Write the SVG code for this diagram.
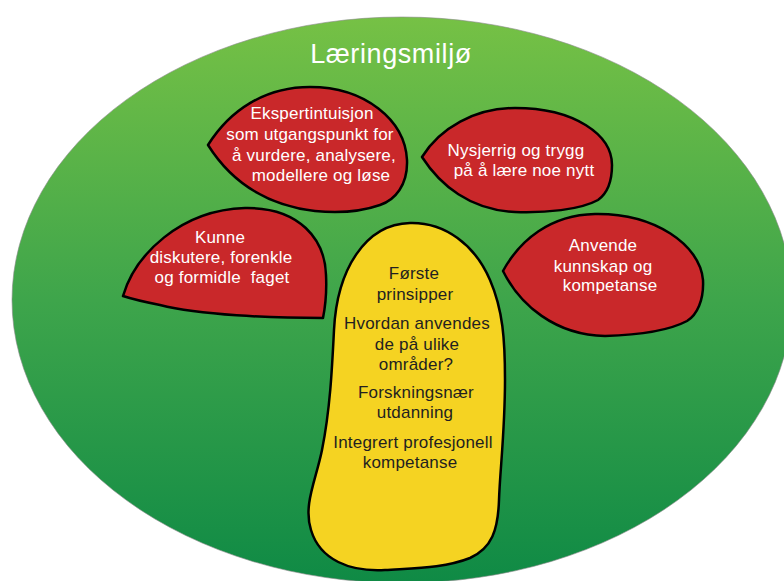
<svg xmlns="http://www.w3.org/2000/svg" width="784" height="581" viewBox="0 0 784 581">
<defs>
<linearGradient id="bg" x1="0" y1="0" x2="0" y2="1">
<stop offset="0" stop-color="#76c145"/>
<stop offset="0.5" stop-color="#3ea54b"/>
<stop offset="1" stop-color="#0f8a45"/>
</linearGradient>
<style>
.leaf{fill:#c9282a;stroke:#000;stroke-width:2.5;stroke-linejoin:round}
.core{fill:#f5d322;stroke:#000;stroke-width:2.5;stroke-linejoin:round}
.wt{fill:#fff;font-family:"Liberation Sans",Arial,sans-serif;font-size:17px;letter-spacing:0.2px;text-anchor:middle}
.dt{fill:#231f20;font-family:"Liberation Sans",Arial,sans-serif;font-size:17px;letter-spacing:0.2px;text-anchor:middle}
.title{fill:#fff;font-family:"Liberation Sans",Arial,sans-serif;font-size:27px;letter-spacing:0.6px;text-anchor:middle}
</style>
</defs>
<rect width="784" height="581" fill="#fff"/>
<g id="environment">
<ellipse cx="402" cy="300" rx="390" ry="283" fill="url(#bg)" stroke="#8a8a8a" stroke-width="1" stroke-opacity="0.6"/>
<text class="title" x="391" y="63">Læringsmiljø</text>
</g>
<g id="connectors"></g>
<g id="node-ekspert">
<path class="leaf" d="M208,145 C230,110 265,87 310,87 C365,87 405,120 407,160 C408,185 395,200 380,205 C360,212 335,213 315,211 C265,205 230,180 208,145 Z"/>
<text class="wt" x="312" y="119">Ekspertintuisjon</text>
<text class="wt" x="310" y="140">som utgangspunkt for</text>
<text class="wt" x="314" y="161">å vurdere, analysere,</text>
<text class="wt" x="321" y="181">modellere og løse</text>
</g>
<g id="node-nysjerrig">
<path class="leaf" d="M422,157 C440,128 475,108 515,108 C575,108 612,135 612,165 C612,185 605,195 598,200 C580,210 545,213 515,212 C470,210 440,185 422,157 Z"/>
<text class="wt" x="516" y="156">Nysjerrig og trygg</text>
<text class="wt" x="524" y="176">på å lære noe nytt</text>
</g>
<g id="node-kunne">
<path class="leaf" d="M123,296 C135,255 180,210 245,208 C300,207 325,240 326,275 C327,295 325,308 323,318 C270,318 200,315 160,305 C145,302 132,299 123,296 Z"/>
<text class="wt" x="220" y="243">Kunne</text>
<text class="wt" x="221" y="263">diskutere, forenkle</text>
<text class="wt" x="222" y="283" xml:space="preserve">og formidle  faget</text>
</g>
<g id="node-anvende">
<path class="leaf" d="M503,271 C520,240 550,215 595,214 C655,213 700,245 703,280 C704,300 697,315 687,321 C670,330 640,335 605,336 C555,335 520,305 503,271 Z"/>
<text class="wt" x="603" y="251">Anvende</text>
<text class="wt" x="603" y="272">kunnskap og</text>
<text class="wt" x="610" y="291">kompetanse</text>
</g>
<g id="node-kjerne">
<path class="core" d="M410,223 C445,222 475,245 490,280 C503,310 505,340 505,380 C505,430 500,470 499,500 C498,530 492,548 470,558 C445,568 415,568 385,570 C350,572 320,560 311,530 C303,505 316,480 322,450 C330,410 332,370 334,330 C337,270 365,224 410,223 Z"/>
<text class="dt" x="414" y="279">Første</text>
<text class="dt" x="415" y="300">prinsipper</text>
<text class="dt" x="417" y="329">Hvordan anvendes</text>
<text class="dt" x="417" y="350">de på ulike</text>
<text class="dt" x="416" y="370">områder?</text>
<text class="dt" x="416" y="398">Forskningsnær</text>
<text class="dt" x="415" y="418">utdanning</text>
<text class="dt" x="413" y="448">Integrert profesjonell</text>
<text class="dt" x="410" y="468">kompetanse</text>
</g>
</svg>
